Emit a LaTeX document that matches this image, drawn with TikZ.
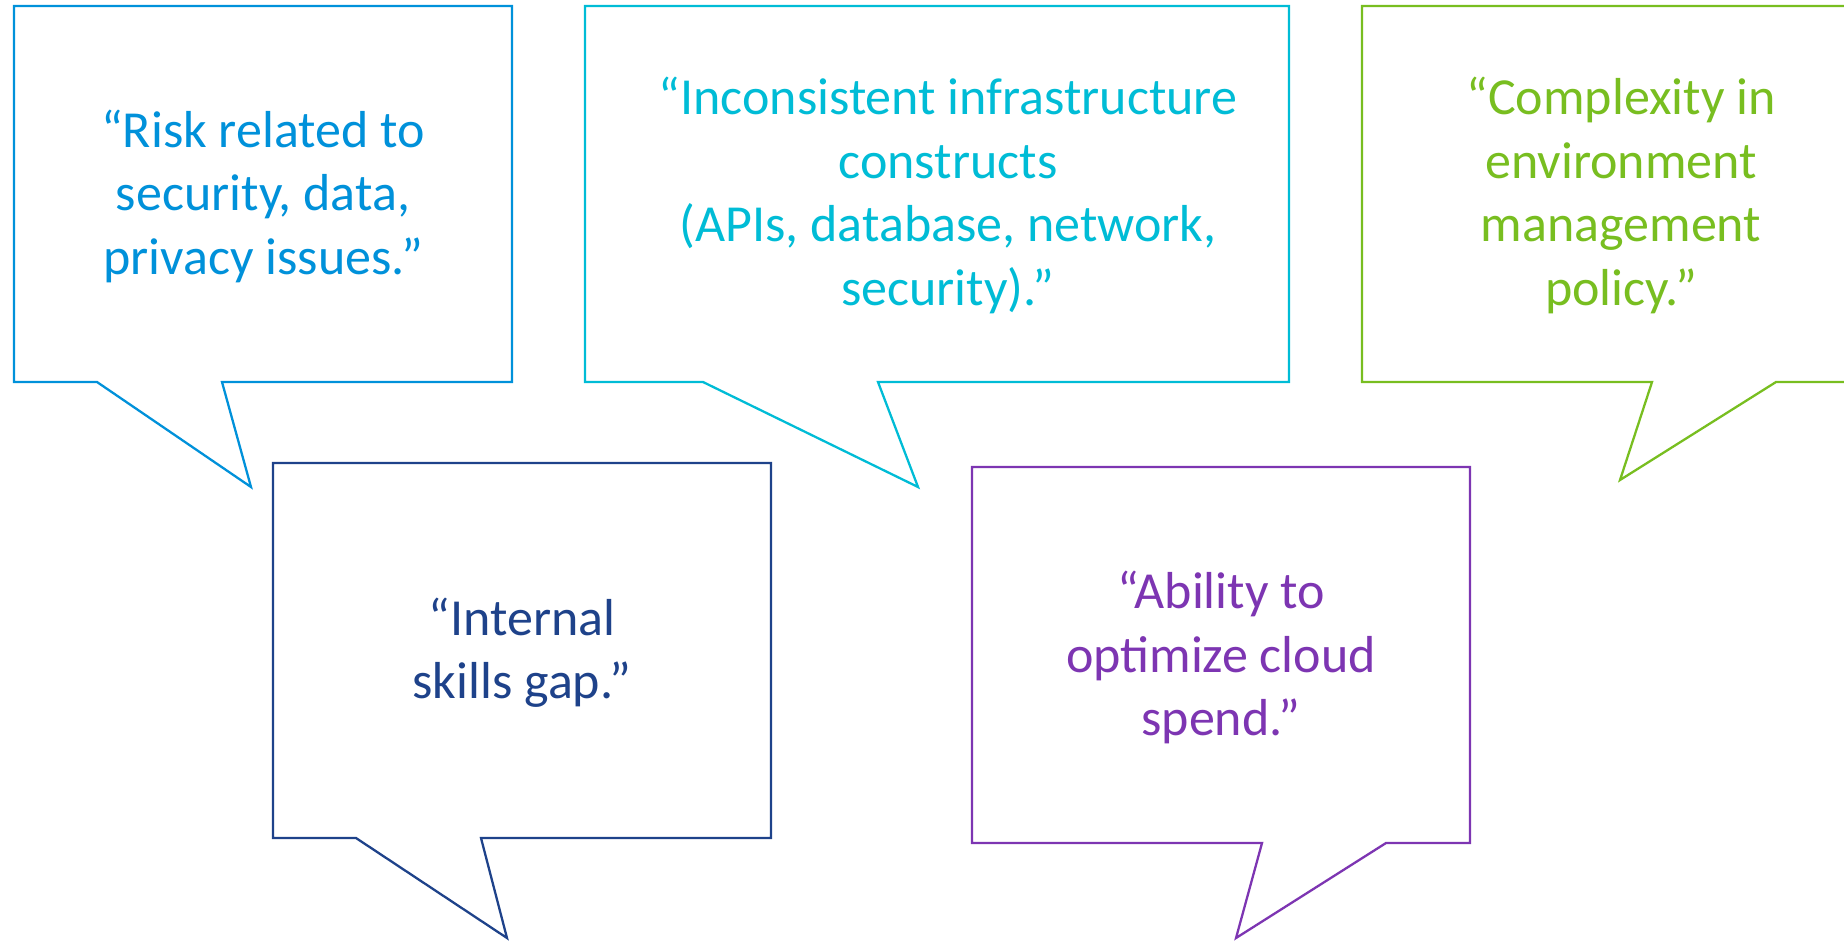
\documentclass[tikz,border=0pt]{standalone}
\usepackage{fontspec}
\setmainfont{Carlito}
\definecolor{cblue}{HTML}{0091DA}
\definecolor{ccyan}{HTML}{00BCD6}
\definecolor{cgreen}{HTML}{78BE20}
\definecolor{cnavy}{HTML}{1E428A}
\definecolor{cpurple}{HTML}{7D35B2}
\begin{document}
\begin{tikzpicture}[x=0.02cm,y=-0.02cm,
  bubble/.style={line width=1.3pt,line join=miter,fill=white},
  quote/.style={align=center,inner sep=0pt,anchor=center,
    font=\fontsize{29.6pt}{36.4pt}\selectfont}]
\useasboundingbox (0,0) rectangle (1844,940);
\clip (0,0) rectangle (1844,940);
% blue bubble
\draw[bubble,draw=cblue] (14,6) -- (512,6) -- (512,382) -- (222,382) -- (251,487) -- (97,382) -- (14,382) -- cycle;
\node[quote,text=cblue] (q1) at (263,198.2) {\strut“Risk related to\\\strut security, data,\\\strut privacy issues.”};
% cyan bubble
\draw[bubble,draw=ccyan] (585,6) -- (1289,6) -- (1289,382) -- (878,382) -- (918,487) -- (703,382) -- (585,382) -- cycle;
\node[quote,text=ccyan] (q2) at (948,197.2) {\strut“Inconsistent infrastructure\\\strut constructs\\\strut (APIs, database, network,\\\strut security).”};
% green bubble
\draw[bubble,draw=cgreen] (1362,6) -- (1880,6) -- (1880,382) -- (1776,382) -- (1620,480) -- (1652,382) -- (1362,382) -- cycle;
\node[quote,text=cgreen] (q3) at (1621,197.2) {\strut“Complexity in\\\strut environment\\\strut management\\\strut policy.”};
% navy bubble
\draw[bubble,draw=cnavy] (273,463) -- (771,463) -- (771,838) -- (481,838) -- (507,938) -- (356,838) -- (273,838) -- cycle;
\node[quote,text=cnavy] (q4) at (522,654.2) {\strut“Internal\\\strut skills gap.”};
% purple bubble
\draw[bubble,draw=cpurple] (972,467) -- (1470,467) -- (1470,843) -- (1386,843) -- (1236,938) -- (1262,843) -- (972,843) -- cycle;
\node[quote,text=cpurple] (q5) at (1221,659.2) {\strut“Ability to\\\strut optimize cloud\\\strut spend.”};
\end{tikzpicture}
\end{document}
